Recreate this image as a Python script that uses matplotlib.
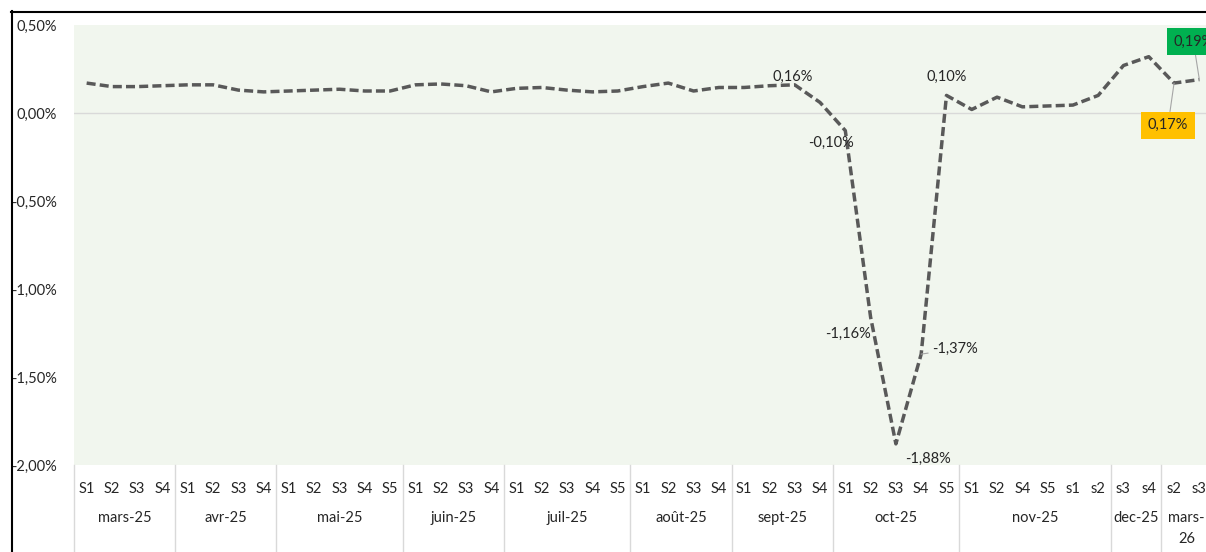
import matplotlib
matplotlib.use("Agg")
import matplotlib.pyplot as plt
from matplotlib.lines import Line2D
from matplotlib.transforms import blended_transform_factory

plt.rcParams['font.family'] = ['Lato', 'DejaVu Sans']

# weekly change, in %
values = [0.17, 0.15, 0.15, 0.155,
          0.16, 0.16, 0.13, 0.12,
          0.125, 0.13, 0.135, 0.125, 0.125,
          0.16, 0.165, 0.155, 0.12,
          0.14, 0.145, 0.13, 0.12, 0.125,
          0.15, 0.17, 0.125, 0.145,
          0.145, 0.155, 0.16, 0.06,
          -0.10, -1.16, -1.88, -1.37, 0.10,
          0.02, 0.09, 0.035, 0.04, 0.045, 0.10,
          0.27, 0.32,
          0.17, 0.19]
weeks = ["S1", "S2", "S3", "S4",
         "S1", "S2", "S3", "S4",
         "S1", "S2", "S3", "S4", "S5",
         "S1", "S2", "S3", "S4",
         "S1", "S2", "S3", "S4", "S5",
         "S1", "S2", "S3", "S4",
         "S1", "S2", "S3", "S4",
         "S1", "S2", "S3", "S4", "S5",
         "S1", "S2", "S4", "S5", "s1", "s2",
         "s3", "s4",
         "s2", "s3"]
months = ["mars-25", "avr-25", "mai-25", "juin-25", "juil-25", "août-25",
          "sept-25", "oct-25", "nov-25", "dec-25", "mars-\n26"]
month_sizes = [4, 4, 5, 4, 5, 4, 4, 5, 6, 2, 2]
yticks = [0.5, 0.0, -0.5, -1.0, -1.5, -2.0]

# labelled points: index (1-based), offset in pixels (dx, dy up)
plain_labels = {29: (-2, 8), 31: (-14, -12), 32: (-23, -17),
                33: (32, -15), 34: (34, 5), 35: (0, 19)}
box_labels = {44: ((-6, -42), "#FFC000"), 45: ((-6, 38), "#00B050")}


def pct(v):
    return f"{v:.2f}".replace(".", ",") + "%"


W, H = 1206, 552
TOP, BOTTOM, LEFT, RIGHT = 25, 465, 74, 1212
fig = plt.figure(figsize=(W / 100, H / 100), dpi=100)
ax = fig.add_axes([LEFT / W, 1 - BOTTOM / H, (RIGHT - LEFT) / W, (BOTTOM - TOP) / H])

xs = list(range(1, len(values) + 1))
ax.plot(xs, values, color="#595959", lw=2.5, dashes=(2.6, 1.2), zorder=3)
ax.axhline(0, color="#D9D9D9", lw=1, zorder=1)

ax.set_xlim(0.5, len(values) + 0.5)
ax.set_ylim(-2.0, 0.5)
ax.set_facecolor("#F1F6EE")
for s in ax.spines.values():
    s.set_visible(False)
ax.set_xticks([])
ax.set_yticks(yticks)
ax.set_yticklabels([pct(v) for v in yticks])
ax.tick_params(axis='y', length=0, pad=12, labelsize=10.5, labelcolor="#262626")

txt_color = "#262626"
for i, (dx, dy) in plain_labels.items():
    arrow = None
    if i == 34:
        arrow = dict(arrowstyle='-', color="#A6A6A6", lw=0.8, shrinkA=1, shrinkB=0)
    ax.annotate(pct(values[i - 1]), (i, values[i - 1]), xytext=(dx, dy),
                textcoords='offset pixels', ha='center', va='center',
                fontsize=10.5, color=txt_color, arrowprops=arrow, zorder=4)

for i, ((dx, dy), col) in box_labels.items():
    ax.annotate(pct(values[i - 1]), (i, values[i - 1]), xytext=(dx, dy),
                textcoords='offset pixels', ha='center', va='center',
                fontsize=10.5, color=txt_color, annotation_clip=False,
                bbox=dict(boxstyle="square,pad=0.45", fc=col, ec='none'),
                arrowprops=dict(arrowstyle='-', color="#A6A6A6", lw=0.8,
                                shrinkA=0, shrinkB=0), zorder=4)

# two-level category axis below the plot
trans = blended_transform_factory(ax.transData, ax.transAxes)


def frac(py):
    return (BOTTOM - py) / (BOTTOM - TOP)


for i, w in enumerate(weeks, start=1):
    ax.text(i, frac(493), w, transform=trans, ha='center', va='baseline',
            fontsize=10.5, color=txt_color, clip_on=False)

start = 0.5
ax.plot([start, start], [0, frac(H)], transform=trans, color="#D9D9D9",
        lw=1, clip_on=False)
for m, n in zip(months, month_sizes):
    end = start + n
    mid = (start + end) / 2
    for k, line in enumerate(m.split("\n")):
        ax.text(mid, frac(522 + 21 * k), line, transform=trans, ha='center',
                va='baseline', fontsize=10.5, color=txt_color, clip_on=False)
    ax.plot([end, end], [0, frac(H)], transform=trans, color="#D9D9D9",
            lw=1, clip_on=False)
    start = end

# chart frame
fig.add_artist(Line2D([11.5 / W, 11.5 / W], [0, 1 - 11 / H], transform=fig.transFigure,
                      color="black", lw=1.5))
fig.add_artist(Line2D([11 / W, 1], [1 - 11.5 / H, 1 - 11.5 / H], transform=fig.transFigure,
                      color="black", lw=1.5))

fig.savefig("out.png", dpi=100)
